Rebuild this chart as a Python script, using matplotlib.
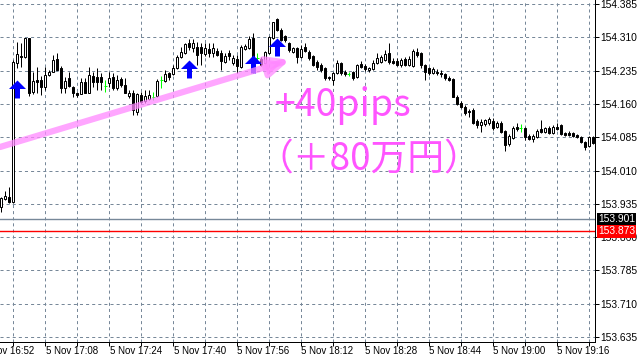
import numpy as np
import matplotlib
matplotlib.use('Agg')
import matplotlib.pyplot as plt
from matplotlib.path import Path

# 1-minute bars, 5 Nov 16:57 .. 19:25
opens = [153.928, 153.946, 153.951, 153.940, 154.252, 154.268, 154.266, 154.308, 154.187, 154.214,
         154.214, 154.198, 154.225, 154.232, 154.261, 154.241, 154.196, 154.218, 154.198, 154.185,
         154.182, 154.209, 154.185, 154.223, 154.221, 154.221, 154.200, 154.207, 154.221, 154.196,
         154.216, 154.203, 154.178, 154.185, 154.142, 154.180, 154.167, 154.171, 154.176, 154.178,
         154.214, 154.212, 154.230, 154.227, 154.241, 154.266, 154.275, 154.297, 154.286, 154.288,
         154.288, 154.272, 154.284, 154.275, 154.279, 154.275, 154.254, 154.275, 154.252, 154.261,
         154.243, 154.284, 154.286, 154.308, 154.263, 154.261, 154.252, 154.275, 154.308, 154.351,
         154.326, 154.313, 154.297, 154.277, 154.286, 154.266, 154.288, 154.277, 154.268, 154.254,
         154.248, 154.241, 154.221, 154.214, 154.230, 154.252, 154.232, 154.227, 154.232, 154.221,
         154.250, 154.245, 154.236, 154.239, 154.252, 154.254, 154.259, 154.275, 154.257, 154.257,
         154.248, 154.261, 154.248, 154.245, 154.277, 154.275, 154.248, 154.241, 154.230, 154.232,
         154.230, 154.227, 154.218, 154.216, 154.176, 154.162, 154.153, 154.144, 154.146, 154.122,
         154.113, 154.115, 154.117, 154.122, 154.108, 154.117, 154.099, 154.070, 154.083, 154.108,
         154.106, 154.106, 154.088, 154.081, 154.086, 154.104, 154.097, 154.106, 154.095, 154.108,
         154.113, 154.095, 154.095, 154.095, 154.090, 154.086, 154.074, 154.065, 154.086]
highs = [153.951, 153.964, 153.973, 154.259, 154.299, 154.297, 154.308, 154.308, 154.232, 154.243,
         154.223, 154.243, 154.236, 154.270, 154.275, 154.245, 154.221, 154.232, 154.200, 154.187,
         154.218, 154.218, 154.243, 154.232, 154.241, 154.230, 154.214, 154.232, 154.230, 154.225,
         154.221, 154.218, 154.191, 154.191, 154.185, 154.187, 154.191, 154.191, 154.187, 154.216,
         154.223, 154.236, 154.232, 154.248, 154.270, 154.288, 154.297, 154.306, 154.306, 154.299,
         154.297, 154.297, 154.297, 154.297, 154.286, 154.281, 154.275, 154.281, 154.270, 154.270,
         154.293, 154.295, 154.313, 154.320, 154.275, 154.266, 154.279, 154.313, 154.344, 154.353,
         154.331, 154.315, 154.299, 154.288, 154.288, 154.293, 154.297, 154.281, 154.270, 154.259,
         154.252, 154.243, 154.223, 154.232, 154.259, 154.254, 154.236, 154.232, 154.234, 154.250,
         154.257, 154.250, 154.243, 154.259, 154.275, 154.270, 154.281, 154.297, 154.263, 154.263,
         154.263, 154.266, 154.268, 154.284, 154.286, 154.277, 154.250, 154.243, 154.243, 154.239,
         154.236, 154.230, 154.223, 154.218, 154.180, 154.167, 154.158, 154.149, 154.151, 154.126,
         154.126, 154.126, 154.131, 154.128, 154.122, 154.122, 154.101, 154.092, 154.110, 154.117,
         154.115, 154.108, 154.092, 154.092, 154.104, 154.124, 154.108, 154.110, 154.113, 154.117,
         154.115, 154.097, 154.099, 154.097, 154.092, 154.088, 154.077, 154.088, 154.088]
lows = [153.917, 153.944, 153.937, 153.937, 154.241, 154.243, 154.263, 154.178, 154.182, 154.185,
        154.180, 154.191, 154.223, 154.232, 154.236, 154.185, 154.185, 154.198, 154.176, 154.176,
        154.182, 154.185, 154.185, 154.198, 154.191, 154.191, 154.187, 154.198, 154.191, 154.191,
        154.198, 154.185, 154.173, 154.135, 154.135, 154.162, 154.162, 154.169, 154.169, 154.176,
        154.196, 154.209, 154.214, 154.225, 154.239, 154.263, 154.272, 154.281, 154.277, 154.248,
        154.248, 154.268, 154.266, 154.266, 154.268, 154.236, 154.252, 154.259, 154.248, 154.230,
        154.241, 154.281, 154.284, 154.230, 154.254, 154.245, 154.250, 154.272, 154.306, 154.324,
        154.302, 154.299, 154.277, 154.275, 154.252, 154.263, 154.277, 154.259, 154.245, 154.236,
        154.232, 154.214, 154.214, 154.203, 154.227, 154.225, 154.223, 154.223, 154.214, 154.218,
        154.241, 154.234, 154.232, 154.236, 154.250, 154.252, 154.257, 154.250, 154.250, 154.245,
        154.243, 154.245, 154.245, 154.243, 154.266, 154.241, 154.214, 154.225, 154.227, 154.225,
        154.221, 154.214, 154.212, 154.176, 154.158, 154.151, 154.135, 154.131, 154.115, 154.106,
        154.097, 154.110, 154.113, 154.101, 154.106, 154.095, 154.054, 154.065, 154.081, 154.099,
        154.097, 154.079, 154.079, 154.074, 154.083, 154.095, 154.095, 154.092, 154.092, 154.101,
        154.090, 154.088, 154.088, 154.086, 154.083, 154.072, 154.056, 154.063, 154.070]
closes = [153.949, 153.953, 153.940, 154.254, 154.272, 154.266, 154.308, 154.185, 154.212, 154.209,
          154.198, 154.225, 154.232, 154.259, 154.236, 154.196, 154.212, 154.200, 154.185, 154.180,
          154.209, 154.185, 154.225, 154.209, 154.209, 154.209, 154.200, 154.218, 154.196, 154.214,
          154.203, 154.185, 154.185, 154.146, 154.182, 154.164, 154.178, 154.180, 154.176, 154.212,
          154.214, 154.227, 154.221, 154.241, 154.266, 154.277, 154.295, 154.288, 154.297, 154.270,
          154.275, 154.286, 154.275, 154.286, 154.270, 154.257, 154.268, 154.268, 154.263, 154.245,
          154.288, 154.290, 154.306, 154.234, 154.263, 154.248, 154.277, 154.311, 154.344, 154.326,
          154.304, 154.304, 154.281, 154.286, 154.266, 154.284, 154.279, 154.263, 154.248, 154.243,
          154.236, 154.218, 154.218, 154.230, 154.252, 154.230, 154.227, 154.227, 154.218, 154.248,
          154.243, 154.239, 154.241, 154.252, 154.263, 154.266, 154.272, 154.254, 154.252, 154.248,
          154.259, 154.248, 154.261, 154.279, 154.270, 154.248, 154.232, 154.230, 154.239, 154.230,
          154.227, 154.218, 154.214, 154.176, 154.160, 154.153, 154.140, 154.142, 154.117, 154.113,
          154.119, 154.124, 154.126, 154.106, 154.117, 154.097, 154.068, 154.088, 154.106, 154.104,
          154.106, 154.086, 154.081, 154.088, 154.099, 154.097, 154.106, 154.095, 154.108, 154.104,
          154.092, 154.090, 154.090, 154.088, 154.086, 154.074, 154.063, 154.086, 154.072]

price_ticks = [154.385, 154.310, 154.235, 154.160, 154.085, 154.010,
               153.935, 153.860, 153.785, 153.710, 153.635]
price_labels = ['154.385', '154.310', '154.235', '154.160', '154.085', '154.010',
                '153.935', '153.860', '153.785', '153.710', '153.635']
time_pos = [-5, 11, 27, 43, 59, 75, 91, 107, 123, 139]
time_labels = ['5 Nov 16:52', '5 Nov 17:08', '5 Nov 17:24', '5 Nov 17:40', '5 Nov 17:56',
               '5 Nov 18:12', '5 Nov 18:28', '5 Nov 18:44', '5 Nov 19:00', '5 Nov 19:16']
grid_pos = [3, 11, 19, 27, 35, 43, 51, 59, 67, 75, 83, 91, 99, 107, 115, 123, 131, 139, 147]

buy_bars = [4, 47, 63, 69]
buy_prices = [154.214, 154.259, 154.270, 154.308]
trend_x = [-0.33, 72.2]
trend_y = [154.063, 154.259]
bid, ask = 153.901, 153.873

plt.rcParams['lines.scale_dashes'] = False
fig = plt.figure(figsize=(6.4, 3.62), dpi=100)
ax = fig.add_axes([0, 20 / 362, 595 / 640, 342 / 362])
ax.set_xlim(-0.33, 148.6)
ax.set_ylim(153.624, 154.394)

o = np.array(opens); h = np.array(highs); l = np.array(lows); c = np.array(closes)
idx = np.arange(len(o))
up = c > o
dn = c < o
eq = c == o
px = 0.72
ax.vlines(idx[~eq], l[~eq], h[~eq], color='black', lw=px, zorder=2)
ax.bar(idx[up], (c - o)[up], bottom=o[up], width=0.55, color='white',
       edgecolor='black', lw=px, zorder=3)
ax.bar(idx[dn], (o - c)[dn], bottom=c[dn], width=0.55, color='black',
       edgecolor='black', lw=px, zorder=3)
ax.vlines(idx[eq], l[eq], h[eq], color='#00ff00', lw=px, zorder=3)
ax.hlines(c[eq], idx[eq] - 0.4, idx[eq] + 0.4, color='#00ff00', lw=px, zorder=3)

# grid
ax.set_xticks(grid_pos)
ax.set_yticks(price_ticks)
ax.grid(True, color='#778899', lw=px, linestyle=(0, (2.2, 2.2)), zorder=0)
ax.set_axisbelow(True)
ax.yaxis.tick_right()
ax.set_yticklabels(price_labels, fontsize=7.4, family='Liberation Sans')
ax.tick_params(axis='y', length=3, width=px, pad=1)
ax.tick_params(axis='x', length=3, width=px, labelbottom=False)
for s in ['top', 'left']:
    ax.spines[s].set_visible(False)
for s in ['right', 'bottom']:
    ax.spines[s].set_linewidth(px)

for p, t in zip(time_pos, time_labels):
    ax.text(p + 0.1, -4 / 342, t, transform=ax.get_xaxis_transform(), ha='left', va='top',
            fontsize=7, family='Liberation Sans', clip_on=False)

# bid / ask lines
ax.axhline(bid, color='#778899', lw=1.0, zorder=1)
ax.axhline(ask, color='#ff0000', lw=1.0, zorder=1)
ax.text(1 + 3 / 595, bid, f'{bid:.3f}', transform=ax.get_yaxis_transform(), ha='left',
        va='center', fontsize=7.4, family='Liberation Sans', color='white', clip_on=False,
        zorder=10, bbox=dict(boxstyle='square,pad=0.12', fc='black', ec='none'))
ax.text(1 + 3 / 595, ask, f'{ask:.3f}', transform=ax.get_yaxis_transform(), ha='left',
        va='center', fontsize=7.4, family='Liberation Sans', color='white', clip_on=False,
        zorder=10, bbox=dict(boxstyle='square,pad=0.12', fc='#ff0000', ec='none'))

# buy arrows (tip at the data point)
arrow = Path([(0, 0), (8.5, -8.5), (2.5, -8.5), (2.5, -18), (-2.5, -18), (-2.5, -8.5),
              (-8.5, -8.5), (0, 0)],
             [Path.MOVETO] + [Path.LINETO] * 6 + [Path.CLOSEPOLY])
ax.plot(buy_bars, buy_prices, ls='none', marker=arrow, ms=25.9, mfc='#0000ff',
        mew=0, zorder=5)

# pink trend arrow
ax.annotate('', xy=(trend_x[1], trend_y[1]), xytext=(trend_x[0], trend_y[0]),
            annotation_clip=False, zorder=6,
            arrowprops=dict(arrowstyle='-|>,head_length=1.3,head_width=0.6', lw=4.5,
                            color='#ff88ff', alpha=0.75, shrinkA=0, shrinkB=0))

fig.text(275 / 640, 1 - 116 / 362, '+40pips', fontsize=27, color='#ff55ff',
         family=['Noto Sans CJK JP', 'DejaVu Sans'], va='baseline', ha='left')
fig.text(256 / 640, 1 - 170 / 362, '（＋80万円）', fontsize=26.5, color='#ff55ff',
         family=['Noto Sans CJK JP', 'DejaVu Sans'], va='baseline', ha='left')

fig.savefig('out.png', dpi=100)
